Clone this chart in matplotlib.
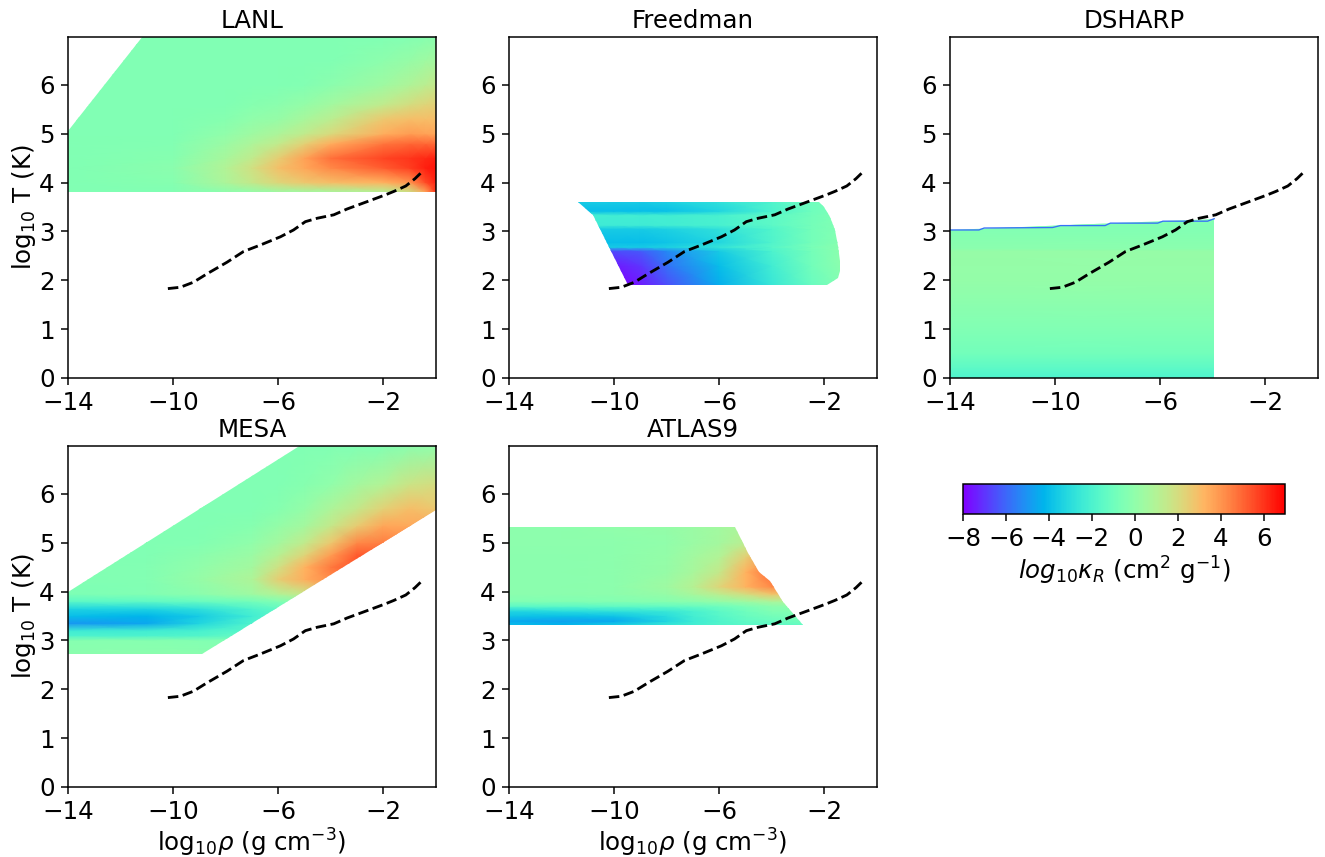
import numpy as np
import matplotlib
matplotlib.use("Agg")
import matplotlib.pyplot as plt
from matplotlib.patches import Polygon
from matplotlib.colors import Normalize
from matplotlib.cm import ScalarMappable

W, H, DPI = 1325, 857, 136
plt.rcParams["font.size"] = 13

track_rho = [-10.2,-9.73,-9.23,-8.72,-7.95,-7.32,-6.69,-5.92,-5.42,-4.97,-4.52,-3.89,-3.38,-2.62,-1.92,-1.6,-1.15,-0.8,-0.59]
track_T = [1.83,1.857,1.96,2.13,2.37,2.59,2.72,2.89,3.03,3.2,3.27,3.34,3.46,3.61,3.75,3.82,3.93,4.08,4.19]

# LANL
lanl_rho = [-14,-10,-8,-7,-6,-5,-4,-2,-1,-0.4,0]
lanl_T = [3.8,4.0,4.3,4.5,4.8,5.0,5.3,5.6,6.0,6.5,7.0]
lanl_k = [
 [-.5,-.5,-.2,0,.3,.4,.5,1,1.7,3.5,6],
 [-.5,-.3,.8,1.5,2.2,2.7,3,3.3,4,5.5,6.3],
 [-.5,-.2,1,1.9,2.9,3.6,4.3,5.2,5.8,6.4,6.6],
 [-.5,-.3,.7,1.4,2.5,3.7,4.8,5.7,6,6.2,6.4],
 [-.5,-.4,.3,.8,1.4,2.4,3.4,4.7,5,5,4.9],
 [-.5,-.5,0,.4,.8,1.4,2.1,3.4,3.8,3.7,3.6],
 [-.5,-.5,-.3,0,.2,.7,1.2,2.7,3,3,3],
 [-.5,-.5,-.5,-.3,-.2,.1,.5,1.4,2,2.3,2.4],
 [-.5,-.5,-.5,-.5,-.5,-.4,-.2,.4,.9,1.2,1.5],
 [-.5,-.5,-.5,-.5,-.5,-.5,-.5,-.1,.2,.4,.6],
 [-.5,-.5,-.5,-.5,-.5,-.5,-.5,-.5,-.4,-.3,-.2],
]
lanl_edge_rho = [-14,0,0,-11.13,-14]
lanl_edge_T = [3.8,3.8,7,7,5.05]

# Freedman
freedman_rho = [-11.4,-10,-9,-8,-6,-4,-2.5,-1.4]
freedman_T = [1.9,2.3,2.6,2.68,2.78,3.05,3.13,3.33,3.42,3.6]
freedman_k = [
 [-8,-8,-7.5,-6.5,-4.4,-2.6,-1.2,-.4],
 [-7.5,-7.5,-7,-5.8,-4,-2.3,-.9,-.2],
 [-6.5,-6.5,-6.3,-5.3,-3.6,-2,-.8,-.2],
 [-3.6,-3.6,-3.6,-3.4,-2.7,-1.7,-.7,-.2],
 [-4,-4,-4,-3.8,-3.2,-1.9,-.8,-.3],
 [-3.6,-3.6,-3.6,-3.4,-2.8,-1.8,-.8,-.4],
 [-2.4,-2.4,-2.4,-2.3,-2.1,-1.5,-.8,-.4],
 [-2.3,-2.3,-2.3,-2.3,-2.1,-1.5,-.9,-.5],
 [-4,-4,-4,-3.9,-3.3,-2,-1,-.6],
 [-3.6,-3.6,-3.6,-3.4,-2.8,-1.9,-1,-.7],
]
freedman_edge_rho = [-11.37,-2.2,-2.0,-1.8,-1.6,-1.47,-1.4,-1.42,-1.5,-1.9,-9.47,-10.8]
freedman_edge_T = [3.6,3.6,3.5,3.3,3.03,2.7,2.4,2.2,2.05,1.9,1.9,3.34]

# DSHARP
dsharp_rho = [-14,-3.95]
dsharp_T = [0,.2,.5,1,1.5,2,2.6,2.65,3,3.3]
dsharp_k = [
 [-2,-2],[-1.5,-1.5],[-.9,-.9],[-.5,-.5],[-.2,-.2],[.1,.1],[.2,.2],[-.2,-.2],[-.4,-.4],[-.4,-.4],
]
dsharp_top_rho = [-14,-12.9,-12.7,-10.1,-9.8,-8.1,-7.9,-6.1,-5.9,-4.2,-3.95]
dsharp_top_T = [3.03,3.03,3.07,3.08,3.12,3.12,3.17,3.17,3.21,3.21,3.26]

# MESA
mesa_rho = [-14,-11,-9,-7,-6,-5,-4,-3,-2,-1,0]
mesa_T = [2.7,3.0,3.1,3.2,3.35,3.5,3.65,3.8,3.95,4.25,4.5,4.75,5,5.35,5.7,6.2,7]
mesa_k = [
 [-.2,-.2,-.2,-.3,-.3,-.3,-.3,-.3,-.3,-.3,-.3],
 [-.3,-.3,-.4,-.5,-.5,-.5,-.5,-.5,-.5,-.5,-.5],
 [-2,-2,-1.8,-1.2,-1,-.8,-.8,-.8,-.8,-.8,-.8],
 [-2.4,-2.3,-2.1,-1.6,-1.2,-1,-1,-1,-1,-1,-1],
 [-5,-4.6,-3.2,-1.9,-1.2,-1,-.9,-.9,-.9,-.9,-.9],
 [-4,-4.2,-3.6,-2.3,-1.5,-1,-.8,-.8,-.8,-.8,-.8],
 [-3.3,-3.2,-2.8,-1.9,-1.4,-.9,-.5,-.5,-.5,-.5,-.5],
 [-1.5,-1.4,-1.2,-.8,-.5,-.2,.5,1,1,1,1],
 [-.6,-.5,-.2,.4,1,1.6,2.4,3,3,3,3],
 [-.5,-.4,.2,.9,2.5,3.4,4.2,5,5,5,5],
 [-.5,-.4,0,.6,1.8,3.3,4.6,5.4,5.4,5.4,5.4],
 [-.5,-.5,-.2,.3,1.1,2.3,3.8,5.3,5.2,5,5],
 [-.5,-.5,-.4,0,.6,1.4,2.7,4.3,4.5,4.3,4.2],
 [-.5,-.5,-.5,-.3,.1,.6,1.5,2.6,3.6,3.5,3.6],
 [-.5,-.5,-.5,-.5,-.3,.1,.8,1.5,2.4,3,2.7],
 [-.5,-.5,-.5,-.5,-.5,-.3,0,.6,1,1.7,2],
 [-.5,-.5,-.5,-.5,-.5,-.5,-.5,-.5,-.4,-.2,0],
]
mesa_edge_rho = [-14,-8.9,0,0,-5.13,-14]
mesa_edge_T = [2.72,2.72,5.67,7,7,3.99]

# ATLAS9
atlas_rho = [-14,-12,-10,-8,-7,-6,-5,-4,-2.8]
atlas_T = [3.32,3.4,3.5,3.6,3.7,3.8,3.95,4.1,4.4,4.7,5.0,5.32]
atlas_k = [
 [-4,-4.2,-3.5,-2.6,-2.2,-1.8,-1.6,-1.5,-1.3],
 [-4.5,-4.7,-4.5,-3.2,-2.4,-1.9,-1.4,-1.1,-.9],
 [-3.8,-3.9,-3.8,-3,-2.2,-1.7,-1.2,-.8,-.6],
 [-3.3,-3,-2.8,-2.5,-2.1,-1.5,-1,-.5,-.4],
 [-1.5,-1.5,-1.4,-1.3,-1.2,-1,-.6,-.2,0],
 [-.5,-.5,-.4,-.3,-.2,.1,.4,.8,.9],
 [-.2,-.2,-.1,.2,.7,1.3,2,2.8,2.8],
 [-.2,-.2,-.1,.4,1.1,2.3,3.3,4.3,4.3],
 [-.2,-.2,-.1,.2,.7,1.5,3.3,4.9,4.9],
 [-.2,-.2,-.1,.1,.5,1,2.5,3.9,3.9],
 [-.1,-.1,-.1,0,.3,.6,1.2,2.3,2.3],
 [-.1,-.1,0,.1,.3,.5,.8,1,1],
]
atlas_edge_rho = [-14,-14,-5.4,-4.9,-4.5,-4.06,-3.56,-2.8]
atlas_edge_T = [3.32,5.32,5.32,4.79,4.4,4.22,3.79,3.32]

titles = ["LANL","Freedman","DSHARP","MESA","ATLAS9"]
x_ticks = [-14,-10,-6,-2]
y_ticks = [0,1,2,3,4,5,6]
cbar_ticks = [-8,-6,-4,-2,0,2,4,6]
k_min, k_max = -8, 7

panels = [
 (lanl_rho,lanl_T,lanl_k,lanl_edge_rho,lanl_edge_T),
 (freedman_rho,freedman_T,freedman_k,freedman_edge_rho,freedman_edge_T),
 (dsharp_rho,dsharp_T,dsharp_k,[-14,-3.95,-3.95,-14],[0,0,3.26,3.03]),
 (mesa_rho,mesa_T,mesa_k,mesa_edge_rho,mesa_edge_T),
 (atlas_rho,atlas_T,atlas_k,atlas_edge_rho,atlas_edge_T),
]
boxes = [(68,37),(509,37),(950,37),(68,446),(509,446)]
AW, AH = 368, 341

fig = plt.figure(figsize=(W/DPI, H/DPI), dpi=DPI)
norm = Normalize(k_min, k_max)
cmap = plt.get_cmap("rainbow")

def pix_axes(x0, y0, w, h):
    return fig.add_axes([x0/W, 1-(y0+h)/H, w/W, h/H])

for i, ((r, t, k, er, et), (bx, by), title) in enumerate(zip(panels, boxes, titles)):
    ax = pix_axes(bx, by, AW, AH)
    rr, tt = np.meshgrid(r, t)
    m = ax.pcolormesh(rr, tt, np.array(k, float), shading="gouraud", cmap=cmap, norm=norm)
    clip = Polygon(np.column_stack([er, et]), closed=True, transform=ax.transData)
    m.set_clip_path(clip)
    if title == "DSHARP":
        ax.plot(dsharp_top_rho, dsharp_top_T, color=cmap(norm(-5.8)), lw=0.7, zorder=2.5)
    ax.plot(track_rho, track_T, "k--", lw=1.5, zorder=3)
    ax.set_xlim(-14, 0)
    ax.set_ylim(0, 6.98)
    ax.set_xticks(x_ticks)
    ax.set_yticks(y_ticks)
    ax.set_title(title, fontsize=13, pad=5)
    if i in (0, 3):
        ax.set_ylabel(r"log$_{10}$ T (K)", labelpad=0.5)
    if i >= 3:
        ax.set_xlabel(r"log$_{10}\rho$ (g cm$^{-3}$)", labelpad=1.5)

cax = pix_axes(963, 484, 322, 30)
cb = fig.colorbar(ScalarMappable(norm=norm, cmap=cmap), cax=cax, orientation="horizontal")
cb.set_ticks(cbar_ticks)
cb.set_label(r"$log_{10}\kappa_R$ (cm$^2$ g$^{-1}$)", labelpad=2)

fig.savefig("out.png", dpi=DPI)
